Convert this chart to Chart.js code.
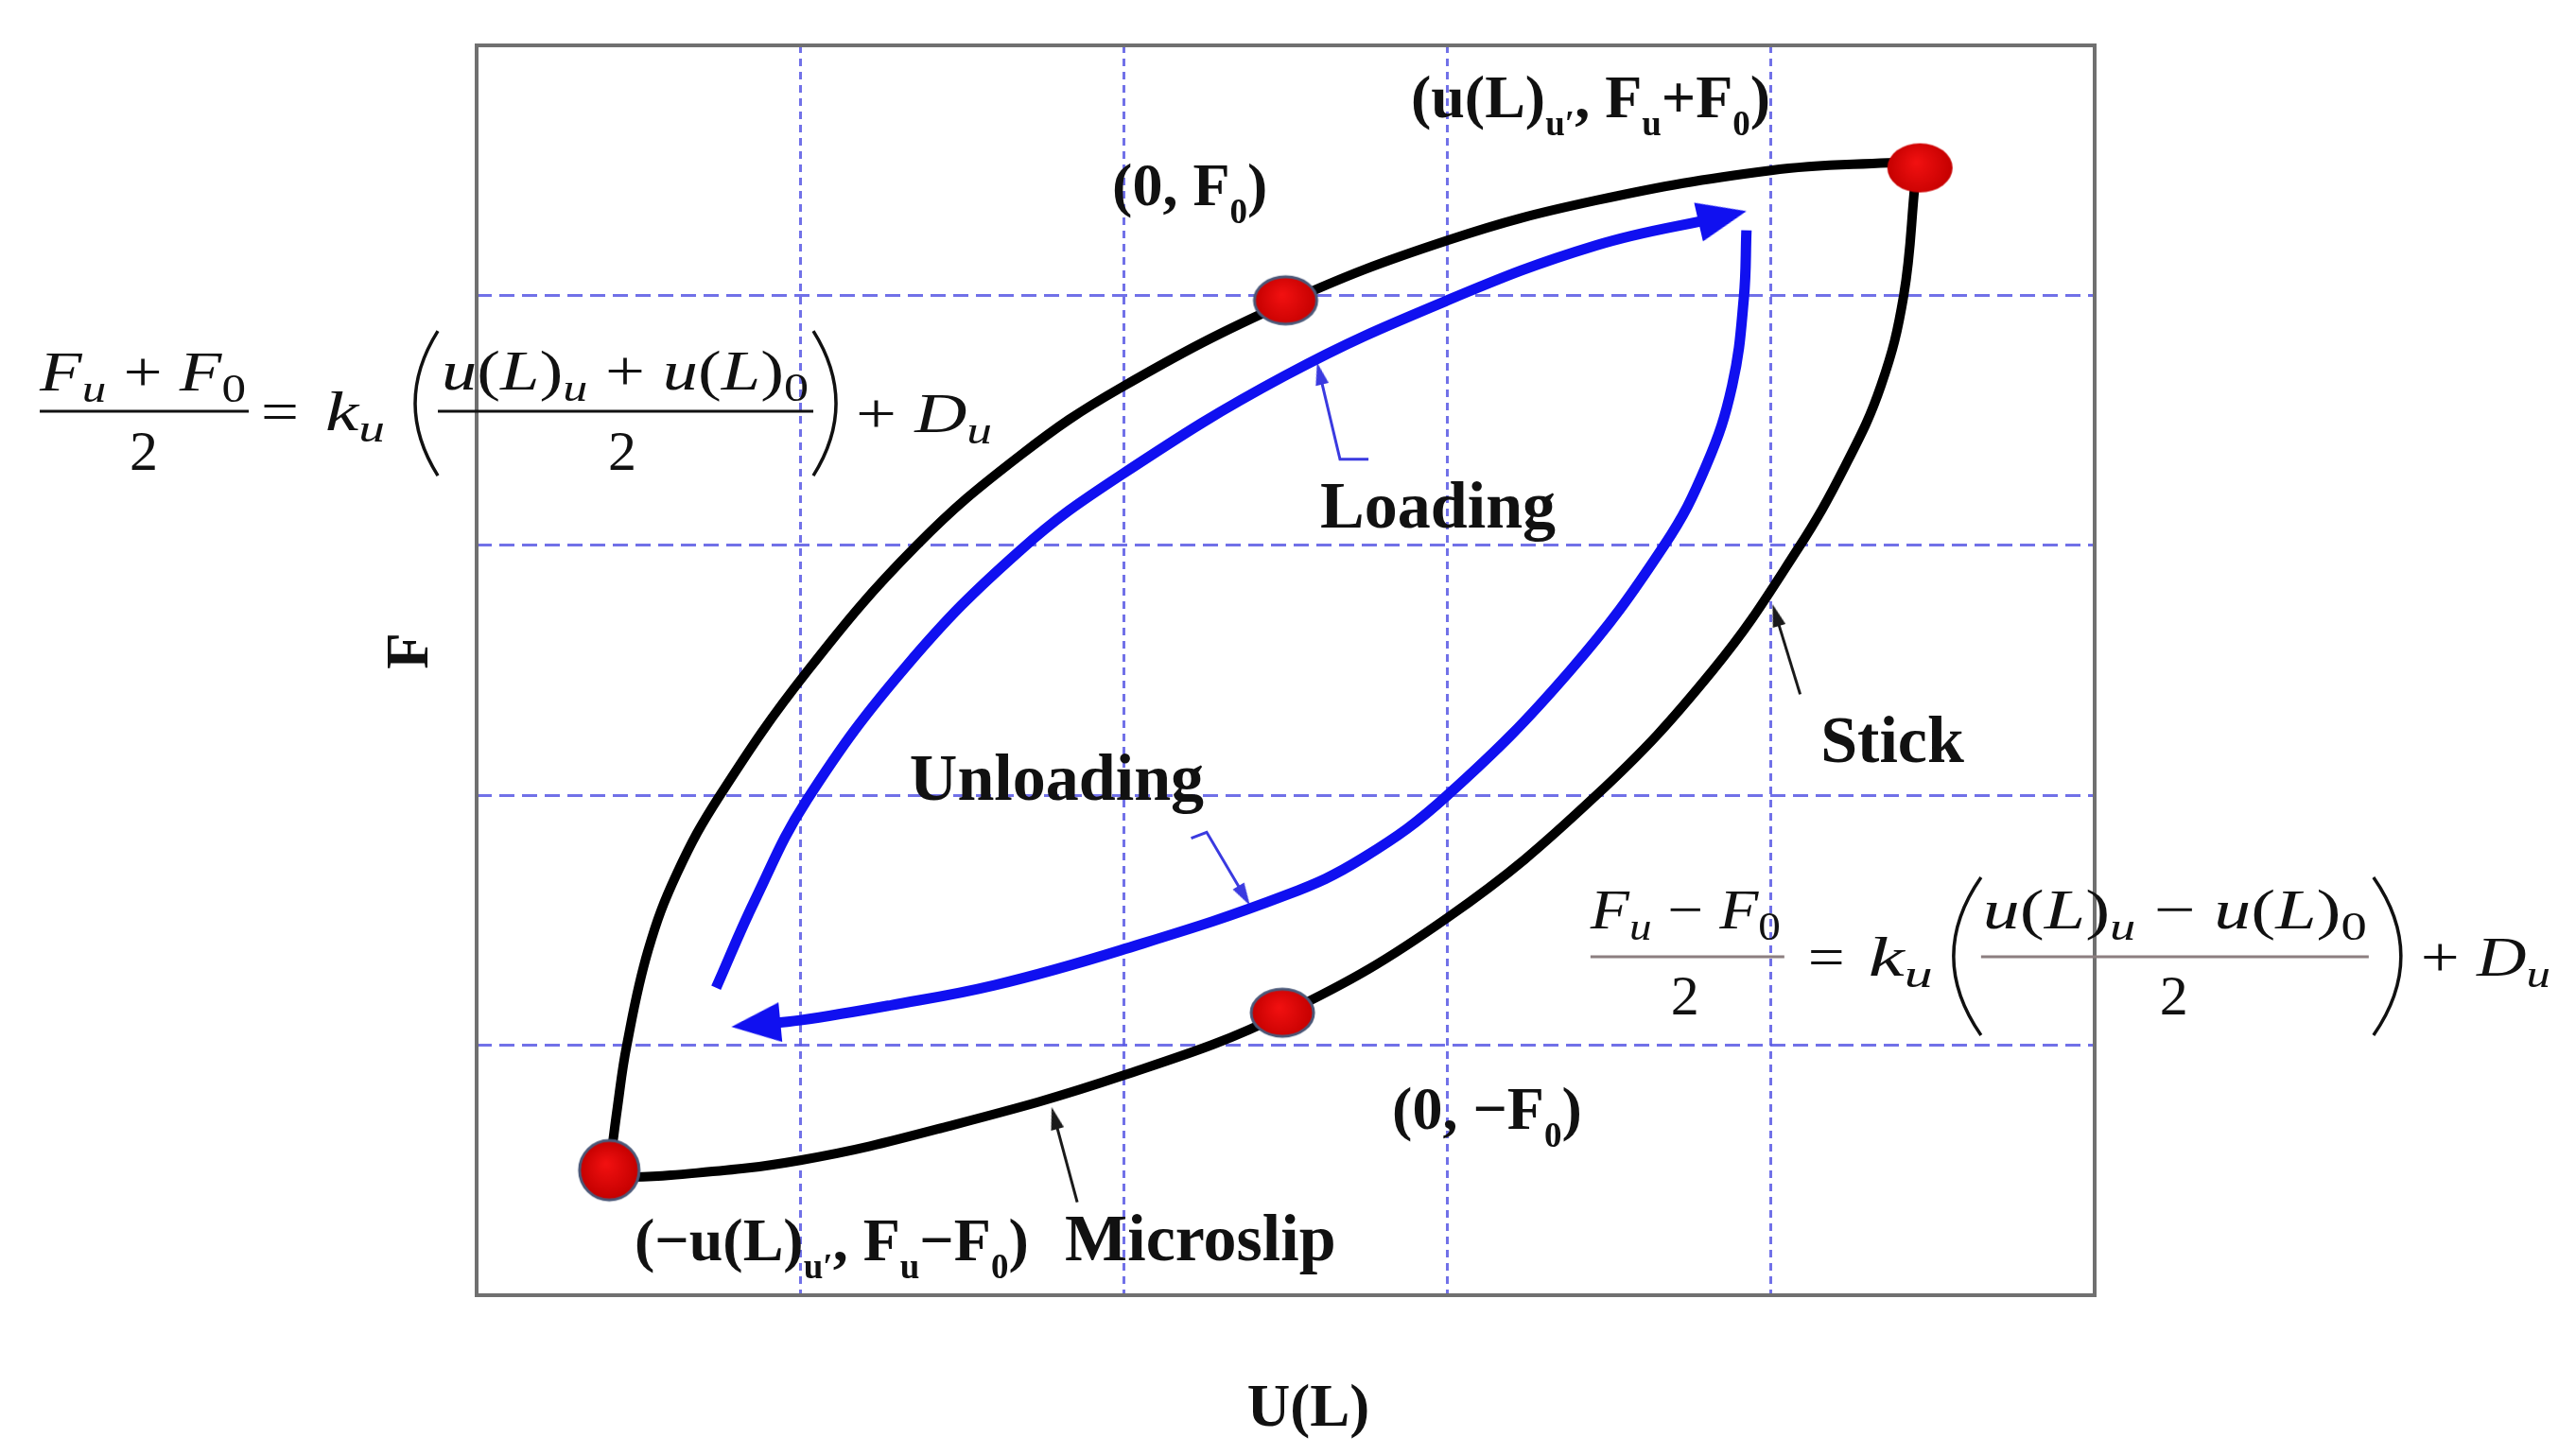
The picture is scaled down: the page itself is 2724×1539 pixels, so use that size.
<!DOCTYPE html>
<html lang="en">
<head>
<meta charset="UTF-8">
<title>Loading / unloading loop</title>
<script src="https://cdn.jsdelivr.net/npm/chart.js"></script>
<style>
  html, body { margin: 0; padding: 0; background: #fff; }
  .chart-container { width: 2724px; height: 1539px; }
</style>
</head>
<body>
<div class="chart-container"><canvas id="loopChart"></canvas></div>
<script>
// black loop, upper branch (bottom-left dot -> top-right dot)
const upperX = [0.41, 0.435, 0.464, 0.53, 0.62, 0.752, 1.024, 1.36, 1.68, 1.99, 2.50, 3.00, 3.46, 4.00, 4.36, 4.46];
const upperY = [0.50, 0.75, 1.00, 1.38, 1.69, 2.00, 2.50, 3.00, 3.36, 3.63, 3.97, 4.22, 4.38, 4.50, 4.53, 4.53];
// black loop, lower branch
const lowerX = [0.41, 0.60, 1.00, 1.44, 2.00, 2.50, 3.00, 3.46, 3.82, 4.08, 4.23, 4.34, 4.41, 4.445];
const lowerY = [0.47, 0.48, 0.54, 0.67, 0.88, 1.13, 1.51, 2.00, 2.50, 2.98, 3.32, 3.64, 4.00, 4.45];
// blue loading path (ends in arrow)
const loadX = [0.74, 0.86, 1.02, 1.33, 1.68, 1.99, 2.50, 3.00, 3.46, 3.85];
const loadY = [1.23, 1.58, 1.98, 2.52, 2.98, 3.28, 3.68, 3.98, 4.20, 4.315];
// blue unloading path (ends in arrow)
const unloadX = [3.924, 3.916, 3.88, 3.80, 3.67, 3.38, 3.00, 2.74, 2.50, 1.99, 1.60, 1.28, 1.00, 0.863];
const unloadY = [4.26, 3.99, 3.64, 3.32, 3.00, 2.50, 2.00, 1.75, 1.60, 1.38, 1.24, 1.16, 1.10, 1.083];
// red marker points
const dotX = [0.41, 2.49, 2.50, 4.46];
const dotY = [0.50, 1.13, 3.98, 4.51];
// small pointer arrows to the curves
const loadPtrX = [2.756, 2.668, 2.605];
const loadPtrY = [3.344, 3.344, 3.688];
const unloadPtrX = [2.208, 2.256, 2.372];
const unloadPtrY = [1.828, 1.852, 1.598];
const stickPtrX = [4.090, 4.015];
const stickPtrY = [2.404, 2.721];
const slipPtrX = [1.856, 1.786];
const slipPtrY = [0.372, 0.709];

const axisMin = 0, axisMax = 5;
const xTitle = 'U(L)', yTitle = 'F';

const pts = (xs, ys) => xs.map((x, i) => ({ x: x, y: ys[i] }));

function makeHead(w, h, color) {
  const c = document.createElement('canvas');
  c.width = w; c.height = h;
  const g = c.getContext('2d');
  g.fillStyle = color;
  g.beginPath(); g.moveTo(w / 2, 0); g.lineTo(w, h); g.lineTo(0, h); g.closePath(); g.fill();
  return c;
}
function makeDot(w, h, ring) {
  const pad = 3;
  const c = document.createElement('canvas');
  c.width = w + pad * 2; c.height = h + pad * 2;
  const g = c.getContext('2d');
  const grd = g.createRadialGradient(c.width * 0.45, c.height * 0.4, 2, c.width / 2, c.height / 2, w / 2);
  grd.addColorStop(0, '#f01010');
  grd.addColorStop(1, '#c40000');
  g.fillStyle = grd;
  g.beginPath(); g.ellipse(c.width / 2, c.height / 2, w / 2, h / 2, 0, 0, Math.PI * 2); g.fill();
  if (ring) { g.lineWidth = 3; g.strokeStyle = '#4b5878'; g.stroke(); }
  return c;
}

const blueHead = makeHead(42, 52, '#1010f0');
const ptrBlueHead = makeHead(14, 24, '#3a3ae0');
const ptrBlackHead = makeHead(14, 24, '#1a1a1a');
const dotImgs = [makeDot(63, 63, true), makeDot(66, 50, true), makeDot(66, 50, true), makeDot(69, 52, false)];

// rotate the head along the last segment (in pixels)
function headRotation(c) {
  const d = c.dataset.data, i = c.dataIndex;
  if (i === 0) return 0;
  const xs = c.chart.scales.x, ys = c.chart.scales.y;
  const dx = xs.getPixelForValue(d[i].x) - xs.getPixelForValue(d[i - 1].x);
  const dy = ys.getPixelForValue(d[i].y) - ys.getPixelForValue(d[i - 1].y);
  return Math.atan2(dy, dx) * 180 / Math.PI + 90;
}
const lastOnly = c => (c.dataIndex === c.dataset.data.length - 1 ? 6 : 0);

function curve(data, color, width, head, order, tension) {
  return {
    data: data, showLine: true, borderColor: color, borderWidth: width, tension: tension,
    borderCapStyle: 'butt', fill: false, order: order,
    pointRadius: head ? lastOnly : 0, pointStyle: head || 'circle', pointRotation: headRotation,
    pointBackgroundColor: color, pointBorderWidth: 0
  };
}

// ---------- rich text (subscripts with _{..}) ----------
function runs(str, math) {
  const parts = [];
  const re = /_\{([^}]*)\}/g;
  let last = 0, m;
  while ((m = re.exec(str))) {
    if (m.index > last) parts.push({ t: str.slice(last, m.index), sub: false });
    parts.push({ t: m[1], sub: true });
    last = re.lastIndex;
  }
  if (last < str.length) parts.push({ t: str.slice(last), sub: false });
  const res = [];
  parts.forEach(p => {
    if (!math) { res.push({ t: p.t, sub: p.sub, it: false }); return; }
    let cur = null;
    for (const ch of p.t) {
      const it = /[A-Za-z]/.test(ch);
      if (cur && cur.it === it) cur.t += ch;
      else { cur = { t: ch, sub: p.sub, it: it }; res.push(cur); }
    }
  });
  return res;
}
function drawRich(ctx, str, x, y, o) {
  const fam = o.family || '"Liberation Serif", "Times New Roman", serif';
  const subScale = o.subScale || 0.6, subDy = o.subDy || 0.3;
  const rs = runs(str, o.math);
  const fontOf = r => (r.it ? 'italic ' : '') + (o.bold ? 'bold ' : '') +
    Math.round(r.sub ? o.size * subScale : o.size) + 'px ' + fam;
  ctx.save();
  let w = 0;
  rs.forEach(r => { ctx.font = fontOf(r); r.w = ctx.measureText(r.t).width; w += r.w; });
  const sx = o.width ? o.width / w : 1;
  const x0 = o.center ? x - w * sx / 2 : x;
  ctx.translate(x0, y);
  if (o.rotate) ctx.rotate(o.rotate);
  ctx.scale(sx, 1);
  ctx.fillStyle = o.color || '#000';
  ctx.textAlign = 'left';
  ctx.textBaseline = 'alphabetic';
  let cx = 0;
  rs.forEach(r => {
    ctx.font = fontOf(r);
    ctx.fillText(r.t, cx, r.sub ? o.size * subDy : 0);
    cx += r.w;
  });
  ctx.restore();
}

const labels = [
  { s: '(0, F_{0})', x: 1.964, y: 4.36, size: 64 },
  { s: '(u(L)_{u′}, F_{u}+F_{0})', x: 2.887, y: 4.713, size: 64 },
  { s: 'Loading', x: 2.607, y: 3.071, size: 70 },
  { s: 'Unloading', x: 1.338, y: 1.982, size: 70 },
  { s: 'Stick', x: 4.153, y: 2.133, size: 70 },
  { s: '(0, −F_{0})', x: 2.829, y: 0.666, size: 64 },
  { s: '(−u(L)_{u′}, F_{u}−F_{0})', x: 0.488, y: 0.140, size: 64 },
  { s: 'Microslip', x: 1.818, y: 0.140, size: 70 }
];

const equations = [
  { x: -1.35, y: 3.536, barColor: '#111',
    pieces: [
      { s: 'F_{u} + F_{0}', dx: 0, dy: -22, w: 218 },
      { s: '2', dx: 110, dy: 62, center: true },
      { s: '=', dx: 234, dy: 20, w: 40 },
      { s: 'k_{u}', dx: 302, dy: 20, w: 63 },
      { s: 'u(L)_{u} + u(L)_{0}', dx: 425, dy: -23, w: 388 },
      { s: '2', dx: 616, dy: 62, center: true },
      { s: '+ D_{u}', dx: 863, dy: 22, w: 144 }
    ],
    bars: [[0, 221], [421, 818]],
    parens: [[397, 421, -85, 68, '('], [818, 842, -85, 68, ')']] },
  { x: 3.442, y: 1.354, barColor: '#8c7f80',
    pieces: [
      { s: 'F_{u} − F_{0}', dx: 0, dy: -30, w: 201 },
      { s: '2', dx: 100, dy: 61, center: true },
      { s: '=', dx: 230, dy: 20, w: 39 },
      { s: 'k_{u}', dx: 294, dy: 20, w: 68 },
      { s: 'u(L)_{u} − u(L)_{0}', dx: 415, dy: -30, w: 406 },
      { s: '2', dx: 617, dy: 61, center: true },
      { s: '+ D_{u}', dx: 878, dy: 20, w: 137 }
    ],
    bars: [[0, 205], [413, 823]],
    parens: [[384, 413, -84, 83, '('], [828, 857, -84, 83, ')']] }
];

const loopText = {
  id: 'loopText',
  beforeDatasetsDraw(chart) {
    const { ctx, chartArea: a } = chart;
    ctx.save();
    ctx.strokeStyle = '#707070';
    ctx.lineWidth = 4;
    ctx.strokeRect(a.left, a.top, a.right - a.left, a.bottom - a.top);
    ctx.restore();
  },
  afterDraw(chart) {
    const { ctx, chartArea: a } = chart;
    const xs = chart.scales.x, ys = chart.scales.y;
    // axis titles
    drawRich(ctx, xTitle, xs.getPixelForValue(2.57), a.bottom + 138, { size: 63, bold: true, center: true, color: '#111' });
    drawRich(ctx, yTitle, a.left - 52, ys.getPixelForValue(2.58) + 20, { size: 63, bold: true, rotate: -Math.PI / 2, color: '#111' });
    labels.forEach(l => {
      drawRich(ctx, l.s, xs.getPixelForValue(l.x), ys.getPixelForValue(l.y),
        { size: l.size, bold: true, subScale: 0.58, subDy: 0.3, color: '#111' });
    });
    equations.forEach(eq => {
      const ox = xs.getPixelForValue(eq.x), oy = ys.getPixelForValue(eq.y);
      eq.pieces.forEach(p => {
        drawRich(ctx, p.s, ox + p.dx, oy + p.dy,
          { size: 60, math: true, width: p.w, center: p.center, subScale: 0.7, subDy: 0.2, color: '#111' });
      });
      ctx.save();
      ctx.strokeStyle = eq.barColor;
      ctx.lineWidth = 3;
      eq.bars.forEach(b => {
        ctx.beginPath(); ctx.moveTo(ox + b[0], oy); ctx.lineTo(ox + b[1], oy); ctx.stroke();
      });
      ctx.strokeStyle = '#111';
      ctx.lineWidth = 3.5;
      eq.parens.forEach(p => {
        const [l, r, t, b, kind] = p;
        const outer = kind === '(' ? ox + l : ox + r, inner = kind === '(' ? ox + r : ox + l;
        ctx.beginPath();
        ctx.moveTo(inner, oy + t);
        ctx.quadraticCurveTo(2 * outer - inner, oy + (t + b) / 2, inner, oy + b);
        ctx.stroke();
      });
      ctx.restore();
    });
  }
};

const gridColor = c => (c.tick && (c.tick.value === axisMin || c.tick.value === axisMax)) ? 'rgba(0,0,0,0)' : 'rgba(88,88,228,0.85)';

const chart = new Chart(document.getElementById('loopChart').getContext('2d'), {
  type: 'scatter',
  data: {
    datasets: [
      {
        data: pts(dotX, dotY), order: 0, pointStyle: dotImgs, pointRadius: 10, pointRotation: 0
      },
      curve(pts(upperX, upperY), '#000000', 10, null, 2, 0.4),
      curve(pts(lowerX, lowerY), '#000000', 10, null, 2, 0.4),
      curve(pts(loadX, loadY), '#1010f0', 11, blueHead, 1, 0.4),
      curve(pts(unloadX, unloadY), '#1010f0', 11, blueHead, 1, 0.4),
      curve(pts(loadPtrX, loadPtrY), '#3a3ae0', 3, ptrBlueHead, 1, 0),
      curve(pts(unloadPtrX, unloadPtrY), '#3a3ae0', 3, ptrBlueHead, 1, 0),
      curve(pts(stickPtrX, stickPtrY), '#1a1a1a', 3, ptrBlackHead, 1, 0),
      curve(pts(slipPtrX, slipPtrY), '#1a1a1a', 3, ptrBlackHead, 1, 0)
    ]
  },
  options: {
    responsive: true,
    maintainAspectRatio: false,
    animation: false,
    events: [],
    layout: { padding: { left: 504, right: 509, top: 48, bottom: 169 } },
    plugins: { legend: { display: false }, tooltip: { enabled: false } },
    scales: {
      x: {
        type: 'linear', min: axisMin, max: axisMax,
        ticks: { display: false, stepSize: 1 },
        grid: { color: gridColor, lineWidth: 3, drawTicks: false },
        border: { display: false, dash: [8, 6] }
      },
      y: {
        type: 'linear', min: axisMin, max: axisMax,
        ticks: { display: false, stepSize: 1 },
        grid: { color: gridColor, lineWidth: 3, drawTicks: false },
        border: { display: false, dash: [16, 8] }
      }
    }
  },
  plugins: [loopText]
});
</script>
</body>
</html>
